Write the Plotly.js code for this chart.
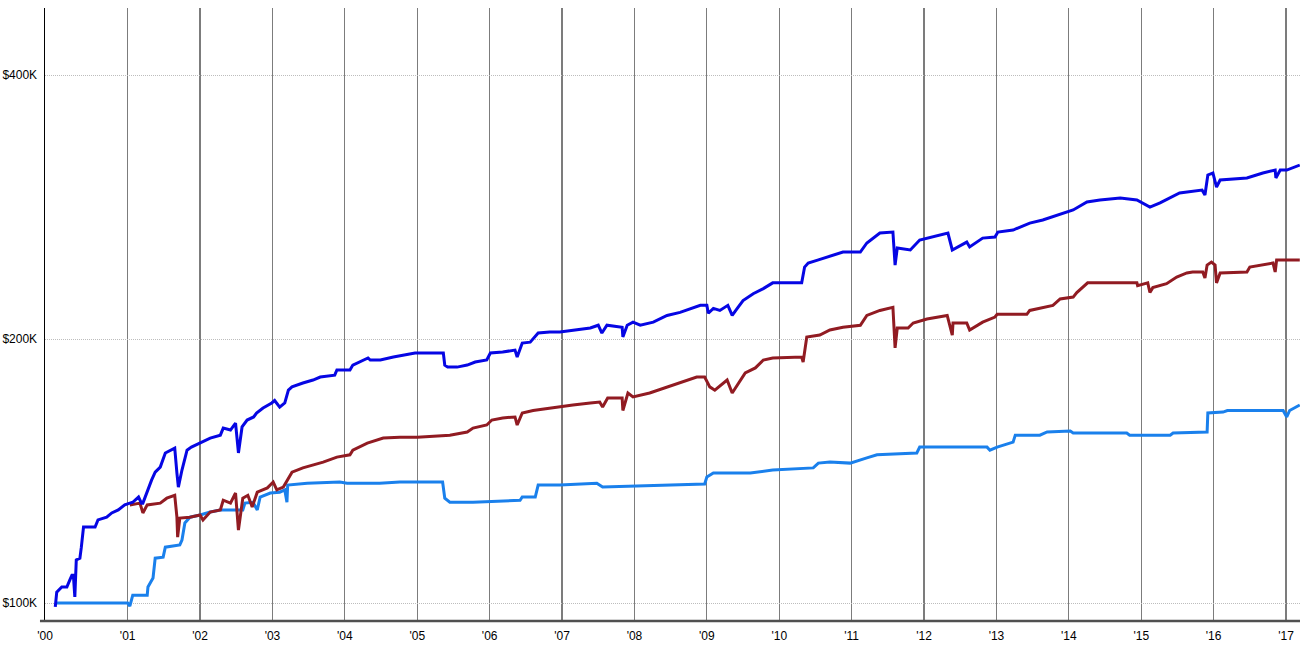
<!DOCTYPE html>
<html>
<head>
<meta charset="utf-8">
<script src="https://cdn.plot.ly/plotly-3.0.1.min.js"></script>
<style>
html,body{margin:0;padding:0;background:#fff;}
#chart{width:1300px;height:650px;}
</style>
</head>
<body>
<div id="chart"></div>
<script>
// ---- Data (decimal years, values in $K) ----
const blueYears = [
2000.00,2000.02,2000.09,2000.16,2000.20,2000.23,2000.25,2000.27,2000.29,2000.34,
2000.36,2000.39,2000.55,2000.59,2000.71,2000.78,2000.87,2000.96,2001.03,2001.07,
2001.15,2001.19,2001.21,2001.24,2001.26,2001.31,2001.33,2001.38,2001.45,2001.52,
2001.65,2001.68,2001.70,2001.75,2001.82,2001.88,2002.00,2002.14,2002.28,2002.32,
2002.42,2002.49,2002.53,2002.58,2002.65,2002.74,2002.78,2002.87,2002.99,2003.03,
2003.10,2003.17,2003.22,2003.27,2003.42,2003.56,2003.66,2003.86,2003.89,2004.07,
2004.11,2004.21,2004.32,2004.35,2004.49,2004.67,2004.97,2005.18,2005.36,2005.38,
2005.42,2005.55,2005.69,2005.80,2005.96,2006.01,2006.18,2006.35,2006.38,2006.45,
2006.56,2006.67,2006.83,2006.97,2007.15,2007.39,2007.50,2007.55,2007.62,2007.83,
2007.84,2007.90,2007.98,2008.08,2008.26,2008.45,2008.63,2008.81,2008.91,2009.00,
2009.02,2009.09,2009.18,2009.29,2009.35,2009.42,2009.50,2009.64,2009.78,2009.91,
2010.05,2010.31,2010.35,2010.40,2010.53,2010.66,2010.74,2010.88,2010.98,2011.12,
2011.21,2011.39,2011.57,2011.60,2011.63,2011.81,2011.94,2012.12,2012.33,2012.39,
2012.59,2012.63,2012.81,2012.98,2013.02,2013.23,2013.46,2013.64,2013.84,2014.06,
2014.25,2014.43,2014.71,2014.94,2015.12,2015.26,2015.53,2015.84,2015.88,2015.92,
2015.99,2016.04,2016.09,2016.46,2016.68,2016.85,2016.86,2016.92,2017.01,2017.19
];
const blueValues = [
99.0,102.9,104.3,104.3,106.2,107.6,107.6,101.6,112.0,112.5,
115.8,122.1,122.1,124.4,125.3,126.7,127.7,129.4,130.0,130.3,
132.1,130.0,130.0,132.1,133.5,137.0,138.1,141.0,142.9,148.3,
150.2,140.7,135.6,141.8,149.4,150.6,152.2,154.2,155.4,158.3,
157.5,160.4,148.3,158.8,161.7,163.0,164.7,166.9,169.1,170.2,
167.3,169.1,174.9,176.4,178.2,179.6,181.0,181.9,184.4,184.4,
186.8,188.3,190.3,189.3,189.3,190.8,192.8,192.8,192.8,186.8,
185.8,185.8,186.8,188.3,189.3,192.8,193.3,194.3,190.8,197.9,
198.4,203.2,203.7,203.7,204.8,205.9,207.4,203.2,207.4,206.3,
201.1,207.4,209.1,207.4,209.1,212.8,214.5,216.8,218.5,218.5,
214.0,216.8,215.6,218.5,212.8,216.8,221.3,225.3,228.3,231.8,
231.8,231.8,241.6,244.2,246.1,248.1,249.4,251.3,251.3,251.3,
257.4,264.2,264.9,242.9,254.0,252.7,259.4,261.4,264.2,252.7,
258.0,254.7,260.7,261.4,264.9,266.3,271.2,273.4,277.0,280.7,
286.6,288.1,289.6,288.1,282.8,285.9,293.5,295.8,291.9,307.7,
309.3,298.1,303.7,305.3,309.3,311.7,305.3,311.7,311.7,315.8
];

const redYears = [
2001.03,2001.17,2001.21,2001.27,2001.45,2001.54,2001.65,2001.68,2001.69,2001.72,
2001.86,2002.00,2002.04,2002.14,2002.28,2002.32,2002.42,2002.49,2002.53,2002.59,
2002.66,2002.72,2002.79,2002.93,2003.01,2003.06,2003.15,2003.27,2003.42,2003.56,
2003.70,2003.89,2004.07,2004.11,2004.31,2004.53,2004.76,2005.00,2005.45,2005.69,
2005.77,2005.96,2006.03,2006.18,2006.35,2006.38,2006.45,2006.60,2006.83,2006.97,
2007.15,2007.39,2007.52,2007.56,2007.63,2007.83,2007.84,2007.91,2007.98,2008.21,
2008.45,2008.63,2008.86,2008.97,2009.04,2009.11,2009.28,2009.35,2009.42,2009.53,
2009.67,2009.78,2009.91,2010.31,2010.33,2010.38,2010.56,2010.70,2010.88,2011.12,
2011.21,2011.39,2011.57,2011.60,2011.63,2011.78,2011.85,2012.04,2012.32,2012.39,
2012.40,2012.59,2012.63,2012.81,2012.98,2013.01,2013.42,2013.46,2013.78,2013.88,
2014.06,2014.11,2014.26,2014.61,2014.94,2014.95,2015.09,2015.12,2015.16,2015.35,
2015.49,2015.63,2015.71,2015.85,2015.88,2015.91,2015.97,2016.02,2016.04,2016.09,
2016.46,2016.50,2016.68,2016.82,2016.85,2016.87,2017.19
];
const redValues = [
129.4,130.0,126.7,129.4,130.0,131.7,132.7,125.3,118.9,125.0,
125.3,126.0,124.4,127.0,127.7,131.0,130.0,133.5,121.1,131.7,
132.7,128.7,133.8,135.3,137.4,134.6,135.6,141.0,142.6,143.7,
144.8,146.7,147.6,149.4,152.2,154.2,154.6,154.6,155.4,156.7,
158.3,159.6,161.7,162.6,163.0,159.6,164.7,165.8,166.9,167.3,
168.2,169.1,169.5,167.3,171.3,171.3,165.8,173.6,171.8,173.6,
176.4,178.2,181.0,181.0,176.4,174.9,179.6,173.6,177.3,183.0,
185.4,189.3,190.3,190.8,188.3,201.1,202.1,204.8,206.3,207.4,
212.8,215.6,217.4,195.4,205.9,205.9,208.6,210.8,212.8,202.1,
208.6,208.6,204.8,209.1,211.9,213.4,213.4,215.6,218.5,222.2,
223.3,226.0,231.8,231.8,231.8,230.1,231.8,226.0,228.9,231.3,
235.4,237.9,238.5,238.5,234.8,242.9,244.8,242.9,231.8,237.9,
238.5,241.6,242.9,244.2,238.5,246.1,246.1
];

const lightYears = [
2000.00,2001.00,2001.03,2001.07,2001.27,2001.28,2001.35,2001.38,2001.49,2001.52,
2001.72,2001.75,2001.79,2001.86,2002.00,2002.14,2002.28,2002.59,2002.62,2002.73,
2002.79,2002.83,2002.97,2003.10,2003.17,2003.20,2003.21,2003.48,2003.93,2004.03,
2004.48,2004.76,2005.35,2005.38,2005.45,2005.77,2006.42,2006.45,2006.63,2006.67,
2006.97,2007.48,2007.56,2008.97,2009.00,2009.09,2009.60,2009.91,2010.47,2010.54,
2010.70,2010.98,2011.21,2011.35,2011.90,2011.94,2012.87,2012.91,2013.01,2013.23,
2013.26,2013.60,2013.70,2014.02,2014.06,2014.80,2014.84,2015.40,2015.44,2015.91,
2015.92,2016.13,2016.19,2016.96,2017.01,2017.05,2017.19
];
const lightValues = [
100.0,100.0,99.2,102.1,102.1,104.3,106.8,112.5,112.8,115.8,
116.5,118.0,123.4,125.3,126.0,127.0,127.7,127.7,130.0,130.3,
127.7,132.1,133.5,133.8,134.6,130.3,136.3,137.0,137.4,137.0,
137.0,137.4,137.4,131.7,130.3,130.3,131.0,132.1,132.1,136.3,
136.3,137.0,135.6,136.7,139.2,140.7,140.7,141.8,142.6,144.4,
144.8,144.4,146.4,147.6,148.3,150.6,150.6,149.4,150.6,152.6,
155.4,155.4,156.7,157.1,156.3,156.3,155.4,155.4,156.3,156.7,
164.7,165.1,165.8,165.8,163.0,165.8,168.2
];

const xTickVals = [1999.858,2001,2002,2003,2004,2005,2006,2007,2008,2009,2010,2011,2012,2013,2014,2015,2016,2017];
const xTickText = ["'00","'01","'02","'03","'04","'05","'06","'07","'08","'09","'10","'11","'12","'13","'14","'15","'16","'17"];
const yTickVals = [100,200,400];
const yTickText = ['$100K','$200K','$400K'];

// ---- Traces ----
const traces = [
  {x: lightYears, y: lightValues, type:'scatter', mode:'lines', line:{color:'#1a80ec', width:3}, hoverinfo:'skip'},
  {x: redYears, y: redValues, type:'scatter', mode:'lines', line:{color:'#911b22', width:3}, hoverinfo:'skip'},
  {x: blueYears, y: blueValues, type:'scatter', mode:'lines', line:{color:'#0606e4', width:3}, hoverinfo:'skip'}
];

const FONT = 'Arial, "Liberation Sans", sans-serif';
const layout = {
  width:1300, height:650,
  margin:{l:45, r:0, t:8, b:29, pad:0},
  paper_bgcolor:'#ffffff', plot_bgcolor:'#ffffff',
  showlegend:false,
  hovermode:false,
  font:{family:FONT, size:12, color:'#000'},
  xaxis:{
    range:[1999.858, 2017.193],
    tickmode:'array', tickvals:xTickVals, ticktext:xTickText,
    showgrid:true, gridcolor:'#7c7c7c', gridwidth:1.2,
    zeroline:false, showline:false, ticks:'',
    ticklabelstandoff:6,
    tickfont:{family:FONT, size:12, color:'#000'},
    fixedrange:true
  },
  yaxis:{
    type:'log',
    range:[Math.log10(95.4), Math.log10(477)],
    tickmode:'array', tickvals:yTickVals, ticktext:yTickText,
    showgrid:true, gridcolor:'#bdbdbd', gridwidth:1, griddash:'1px,1px',
    zeroline:false, showline:true, linecolor:'#000000', linewidth:1.5,
    ticks:'', ticklabelstandoff:4,
    tickfont:{family:FONT, size:12, color:'#000'},
    fixedrange:true
  },
  shapes:[
    {type:'line', xref:'paper', yref:'paper', x0:-0.004, x1:1, y0:0, y1:0,
     line:{color:'#505050', width:2.5}, layer:'above'}
  ]
};

Plotly.newPlot('chart', traces, layout, {staticPlot:true, displayModeBar:false});
</script>
</body>
</html>
